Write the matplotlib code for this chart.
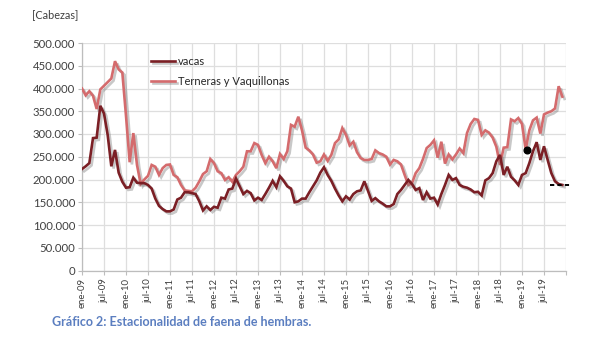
import matplotlib
matplotlib.use("Agg")
import matplotlib.pyplot as plt
import matplotlib.patheffects as pe
from matplotlib.ticker import FuncFormatter, FixedLocator
import numpy as np

# Monthly slaughter of females, thousands of head, ene-09 .. dic-19
vacas_k = [
    223, 229, 236, 291, 292, 362, 345, 298, 229, 265, 215, 195,
    182, 183, 204, 193, 192, 192, 188, 180, 158, 142, 135, 130,
    130, 134, 156, 160, 172, 172, 170, 168, 152, 132, 141, 133,
    140, 138, 160, 158, 178, 180, 202, 185, 168, 175, 170, 154,
    160, 155, 168, 182, 197, 183, 207, 197, 185, 180, 150, 152,
    158, 158, 172, 185, 198, 215, 227, 210, 197, 180, 165, 152,
    163, 156, 168, 174, 176, 196, 175, 153, 159, 152, 147, 141,
    141, 146, 168, 177, 188, 199, 190, 177, 181, 155, 172, 158,
    160, 145, 168, 188, 210, 199, 203, 188, 184, 182, 178, 172,
    173, 165, 198, 203, 214, 240, 254, 210, 228, 206, 198, 188,
    210, 214, 236, 262, 282, 243, 273, 243, 214, 196, 190, 188,
]
terneras_k = [
    400, 385, 394, 384, 355, 398, 406, 414, 422, 460, 442, 435,
    340, 238, 302, 232, 190, 200, 208, 232, 228, 210, 225, 232,
    233, 210, 205, 188, 176, 175, 174, 182, 196, 212, 218, 245,
    236, 218, 214, 199, 205, 195, 210, 218, 228, 262, 262, 280,
    276, 254, 236, 250, 240, 225, 256, 245, 262, 320, 316, 338,
    308, 270, 264, 255, 237, 240, 255, 241, 254, 280, 288, 313,
    298, 275, 283, 260, 247, 243, 243, 245, 264, 258, 255, 250,
    233, 243, 240, 233, 210, 188, 192, 214, 225, 245, 269, 276,
    286, 248, 283, 235, 255, 244, 255, 268, 258, 302, 322, 333,
    331, 298, 308, 303, 292, 272, 232, 270, 271, 332, 328, 335,
    322, 266, 308, 330, 336, 301, 343, 347, 350, 356, 405, 382,
]
tick_labels = [
    "ene-09", "jul-09", "ene-10", "jul-10", "ene-11", "jul-11",
    "ene-12", "jul-12", "ene-13", "jul-13", "ene-14", "jul-14",
    "ene-15", "jul-15", "ene-16", "jul-16", "ene-17", "jul-17",
    "ene-18", "jul-18", "ene-19", "jul-19",
]
series_names = ["vacas", "Terneras y Vaquillonas"]
marker_month, marker_value_k = 121.4, 264
reference_level_k = 187

vacas = np.array(vacas_k) * 1000
terneras = np.array(terneras_k) * 1000
months = np.arange(len(vacas))

FONT = "Lato"
TXT = "#404040"
GRID = "#dedede"
C_VACAS = "#7b1f25"
C_TERN = "#d46b6d"

fig = plt.figure(figsize=(5.96, 3.5), dpi=100)
ax = fig.add_axes([82 / 596, 1 - 270.5 / 350, 484 / 596, 227.5 / 350])

shadow = [pe.SimpleLineShadow(offset=(1.6, -1.6), shadow_color="#777777", alpha=0.4),
          pe.Normal()]

l_tern, = ax.plot(months, terneras, color=C_TERN, lw=1.9, solid_joinstyle="miter",
                  label=series_names[1], path_effects=shadow, zorder=3)
l_vac, = ax.plot(months, vacas, color=C_VACAS, lw=1.9, solid_joinstyle="miter",
                 label=series_names[0], path_effects=shadow, zorder=4)

ax.plot([marker_month], [marker_value_k * 1000], "o", color="black", ms=4.8, zorder=6)
ax.plot([127.5, 133.7], [reference_level_k * 1000] * 2, color="black", lw=1.4,
        ls=(0, (2.2, 1.6)), clip_on=False, zorder=6)

ax.set_xlim(0, 132)
ax.set_ylim(0, 500000)
ax.yaxis.set_major_locator(FixedLocator(np.arange(0, 500001, 50000)))
ax.yaxis.set_major_formatter(FuncFormatter(lambda v, p: f"{int(v):,}".replace(",", ".")))
ax.set_xticks(np.arange(0, 133, 6))
ax.set_xticklabels(tick_labels + [""], rotation=90, fontfamily=FONT, fontsize=6.9, color=TXT)
for lab in ax.get_yticklabels():
    lab.set_fontfamily(FONT)
    lab.set_fontsize(8.2)
    lab.set_color(TXT)

ax.grid(True, color=GRID, lw=0.9)
ax.set_axisbelow(True)
for s in ["top", "right"]:
    ax.spines[s].set_visible(False)
for s in ["left", "bottom"]:
    ax.spines[s].set_color("#bdbdbd")
    ax.spines[s].set_linewidth(0.9)
ax.tick_params(axis="x", length=3, color="#bdbdbd", pad=2.5)
ax.tick_params(axis="y", length=3, color="#bdbdbd", pad=2)

leg = ax.legend(handles=[l_vac, l_tern], loc="upper left", bbox_to_anchor=(0.143, 0.945),
                frameon=False, prop={"family": FONT, "size": 8}, handlelength=2.1,
                handletextpad=0.3, labelspacing=0.85, borderpad=0, borderaxespad=0)
for t in leg.get_texts():
    t.set_color("#262626")

fig.text(32 / 596, 1 - 15 / 350, "[Cabezas]", family=FONT, fontsize=7.8, color=TXT,
         ha="left", va="center")
fig.text(52 / 596, 1 - 322 / 350, "Gráfico 2: Estacionalidad de faena de hembras.",
         family=FONT, fontweight="bold", fontsize=9, color="#5b7ec0", ha="left", va="center")

fig.savefig("out.png", dpi=100)
